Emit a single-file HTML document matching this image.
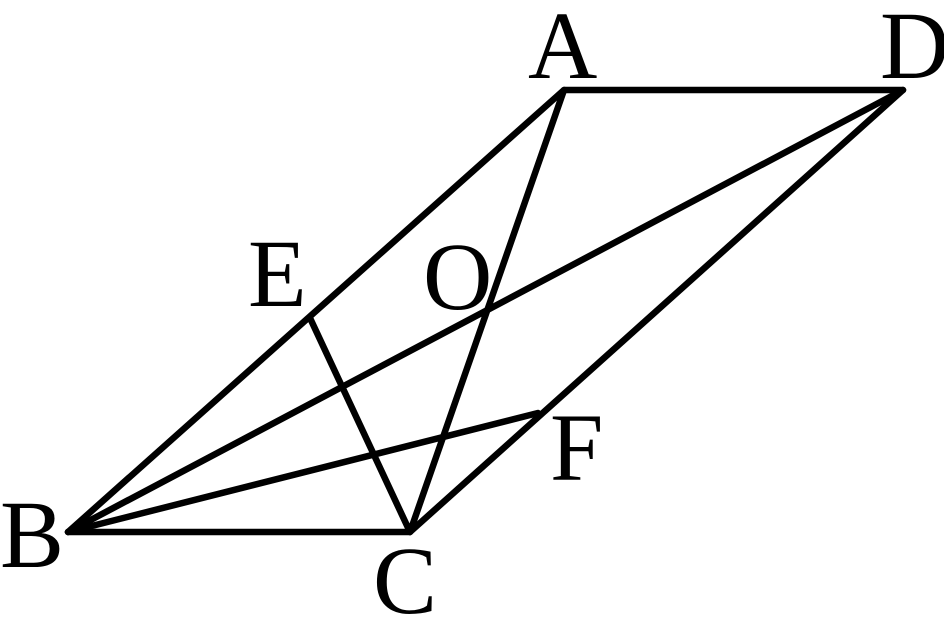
<!DOCTYPE html>
<html><head><style>
html,body{margin:0;padding:0;background:#fff;width:944px;height:641px;overflow:hidden}
svg{display:block}
text{font-family:"Liberation Serif",serif;font-size:96px;fill:#000}
</style></head><body>
<svg width="944" height="641" viewBox="0 0 944 641" xmlns="http://www.w3.org/2000/svg">
<g stroke="#000" stroke-width="6.5" stroke-linecap="round" stroke-linejoin="round" fill="none">
<polygon points="564,90 903,90 410,532 68,532"/>
<line x1="564" y1="90" x2="410" y2="532"/>
<line x1="903" y1="90" x2="68" y2="532"/>
<line x1="310" y1="318" x2="410" y2="532"/>
<line x1="68" y1="532" x2="538" y2="413"/>
</g>
<text x="528" y="78">A</text>
<text x="880" y="78">D</text>
<text x="248" y="306">E</text>
<text x="423" y="309">O</text>
<text x="550" y="480">F</text>
<text x="0" y="567">B</text>
<text x="373" y="613">C</text>
</svg>
</body></html>
